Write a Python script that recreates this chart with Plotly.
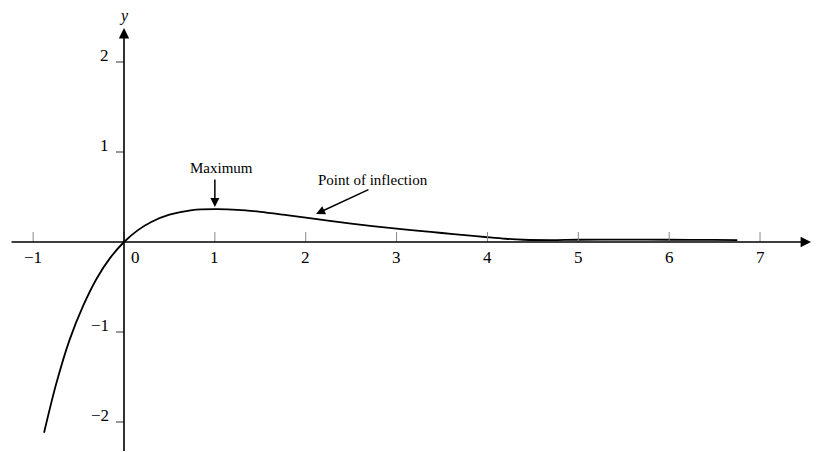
import plotly.graph_objects as go

# Curve
curve_x = [-0.88, -0.75, -0.6, -0.45, -0.3, -0.15, 0.0, 0.15, 0.3, 0.5, 0.75, 1.0,
           1.25, 1.5, 1.75, 2.0, 2.5, 3.0, 3.25, 3.5, 3.75, 4.0, 4.2, 4.4, 4.7, 5.0, 5.5,
           6.0, 6.5, 6.75]
curve_y = [-2.12, -1.59, -1.09, -0.71, -0.405, -0.174, 0.0, 0.129, 0.222, 0.303, 0.354, 0.365,
           0.358, 0.335, 0.304, 0.271, 0.205, 0.148, 0.124, 0.1, 0.076, 0.053, 0.036, 0.025,
           0.021, 0.025, 0.026, 0.025, 0.023, 0.021]

x_ticks = [-1, 0, 1, 2, 3, 4, 5, 6, 7]
x_tick_labels = ["\u22121", "0", "1", "2", "3", "4", "5", "6", "7"]
y_ticks = [-2, -1, 1, 2]
y_tick_labels = ["\u22122", "\u22121", "1", "2"]

FONT = "Liberation Serif, Times New Roman, serif"
PX_X = 90.86
PX_Y = 90.0
OFF = 8  # page body margin

fig = go.Figure()
fig.add_trace(go.Scatter(x=curve_x, y=curve_y, mode="lines",
                         line=dict(color="black", width=1.8, shape="spline", smoothing=0.8),
                         hoverinfo="skip", showlegend=False))

shapes = []
annotations = []

# x ticks (above axis)
for t in x_ticks:
    shapes.append(dict(type="line", xref="x", yref="y", x0=t, x1=t, y0=0, y1=10 / PX_Y,
                       line=dict(color="#888888", width=1)))
# y ticks (left of axis)
for t in y_ticks:
    shapes.append(dict(type="line", xref="x", yref="y", x0=-8 / PX_X, x1=0, y0=t, y1=t,
                       line=dict(color="#333333", width=1)))

# axes with arrows
annotations.append(dict(x=687 / PX_X, y=0, ax=-114 / PX_X, ay=0, xref="x", yref="y",
                        axref="x", ayref="y", text="", showarrow=True, arrowhead=2,
                        arrowsize=1.3, arrowwidth=1.6, arrowcolor="black", standoff=0))
annotations.append(dict(x=0, y=214 / PX_Y, ax=0, ay=-2.34, xref="x", yref="y",
                        axref="x", ayref="y", text="", showarrow=True, arrowhead=2,
                        arrowsize=1.3, arrowwidth=1.6, arrowcolor="black", standoff=0))

# tick labels
for t, lab in zip(x_ticks, x_tick_labels):
    annotations.append(dict(x=t, y=0, xref="x", yref="y", text=lab, showarrow=False,
                            xanchor="center", yanchor="middle", yshift=-15,
                            xshift=11 if t == 0 else 0,
                            font=dict(family=FONT, size=17, color="black")))
for t, lab in zip(y_ticks, y_tick_labels):
    annotations.append(dict(x=0, y=t, xref="x", yref="y", text=lab, showarrow=False,
                            xanchor="right", yanchor="middle", xshift=-13, yshift=7,
                            font=dict(family=FONT, size=17, color="black")))

# axis titles
annotations.append(dict(x=0, y=226 / PX_Y, xref="x", yref="y", text="<i>y</i>", showarrow=False,
                        xanchor="center", yanchor="middle",
                        font=dict(family=FONT, size=16, color="black")))
annotations.append(dict(x=697 / PX_X, y=0, xref="x", yref="y", text="<i>x</i>", showarrow=False,
                        xanchor="left", yanchor="middle",
                        font=dict(family=FONT, size=17, color="black")))

# callouts
annotations.append(dict(x=1.068, y=0.822, xref="x", yref="y", text="Maximum", showarrow=False,
                        xanchor="center", yanchor="middle",
                        font=dict(family=FONT, size=15, color="black")))
annotations.append(dict(x=1.0, y=0.389, ax=1.0, ay=0.711, xref="x", yref="y",
                        axref="x", ayref="y", text="", showarrow=True, arrowhead=2,
                        arrowsize=1.2, arrowwidth=1.5, arrowcolor="black", standoff=0))
annotations.append(dict(x=2.74, y=0.689, xref="x", yref="y", text="Point of inflection",
                        showarrow=False, xanchor="center", yanchor="middle",
                        font=dict(family=FONT, size=15, color="black")))
annotations.append(dict(x=2.113, y=0.311, ax=2.707, ay=0.589, xref="x", yref="y",
                        axref="x", ayref="y", text="", showarrow=True, arrowhead=2,
                        arrowsize=1.2, arrowwidth=1.5, arrowcolor="black", standoff=0))

fig.update_layout(
    width=826 - OFF, height=452 - OFF,
    margin=dict(l=0, r=0, t=0, b=0),
    paper_bgcolor="white", plot_bgcolor="white",
    xaxis=dict(visible=False, range=[(OFF - 124) / PX_X, 702 / PX_X]),
    yaxis=dict(visible=False, range=[-210 / PX_Y, (242 - OFF) / PX_Y]),
    shapes=shapes, annotations=annotations,
    showlegend=False, hovermode=False,
)

fig.write_html("out.html")
